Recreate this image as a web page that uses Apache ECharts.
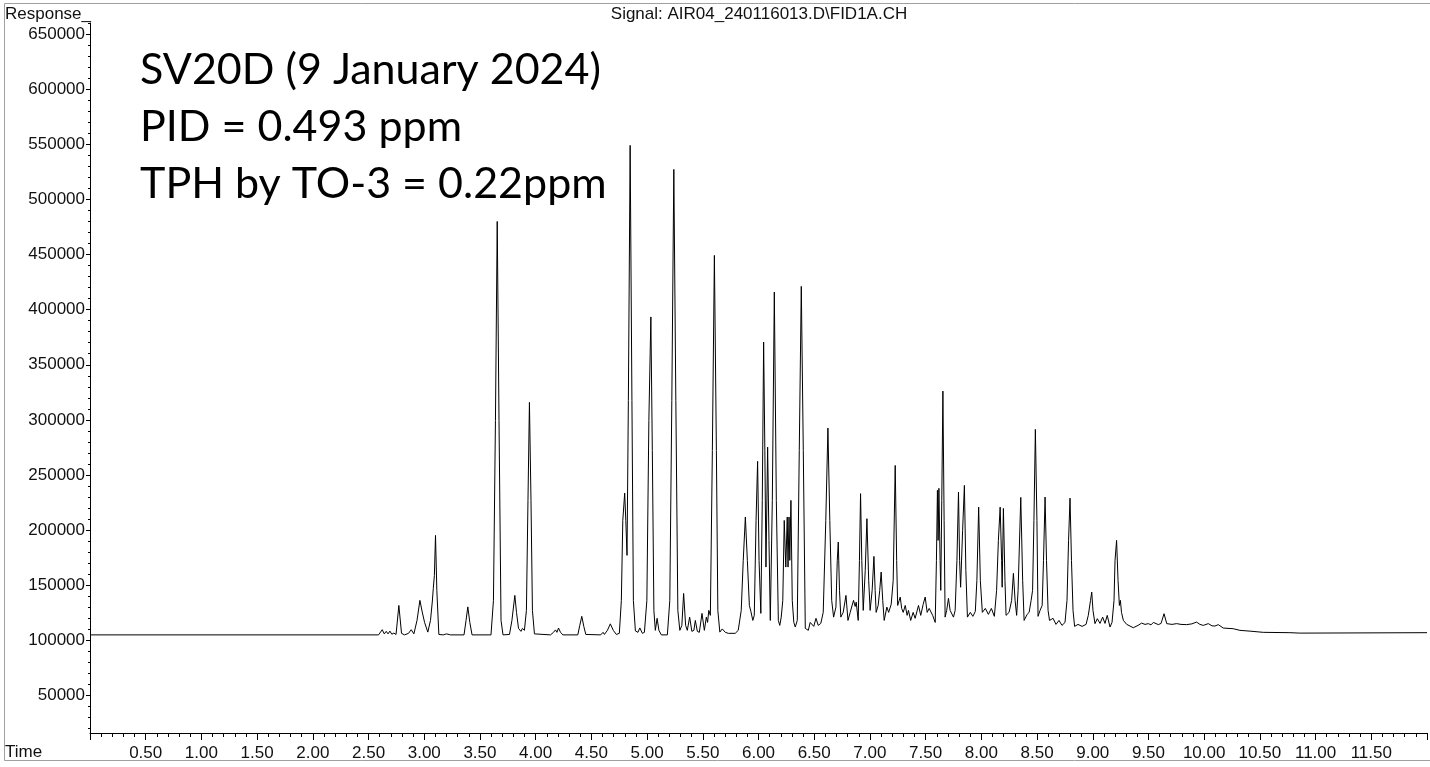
<!DOCTYPE html>
<html>
<head>
<meta charset="utf-8">
<title>FID1A chromatogram</title>
<script src="https://cdn.jsdelivr.net/npm/echarts@6/dist/echarts.min.js"></script>
<style>
	html,body{margin:0;padding:0;background:#fff;}
	#main{width:1430px;height:767px;}
</style>
</head>
<body>
<div id="main"></div>
<script>
// retention time (min)
var times = [
	0, 2.59, 2.623, 2.641, 2.659, 2.675, 2.692, 2.709, 2.727, 2.747, 2.772, 2.796, 2.823, 2.859, 2.883, 2.907,
	2.935, 2.961, 2.982, 3.003, 3.032, 3.056, 3.072, 3.081, 3.091, 3.101, 3.113, 3.131, 3.170, 3.200, 3.236,
	3.357, 3.375, 3.391, 3.409, 3.429, 3.599, 3.621, 3.639, 3.655, 3.671, 3.689, 3.707, 3.765, 3.787, 3.813,
	3.828, 3.846, 3.868, 3.881, 3.899, 3.917, 3.931, 3.944, 3.958, 3.971, 3.989, 4.133, 4.160, 4.178, 4.191,
	4.205, 4.223, 4.244, 4.378, 4.396, 4.414, 4.432, 4.450, 4.584, 4.605, 4.617, 4.644, 4.670, 4.697, 4.724,
	4.751, 4.769, 4.782, 4.799, 4.809, 4.820, 4.832, 4.848, 4.864, 4.877, 4.895, 4.918, 4.935, 4.958, 4.976,
	4.998, 5.016, 5.034, 5.047, 5.061, 5.074, 5.090, 5.106, 5.128, 5.182, 5.204, 5.222, 5.240, 5.258, 5.276,
	5.294, 5.312, 5.328, 5.346, 5.361, 5.382, 5.402, 5.420, 5.433, 5.451, 5.469, 5.493, 5.514, 5.532, 5.543,
	5.554, 5.568, 5.586, 5.604, 5.622, 5.635, 5.653, 5.675, 5.702, 5.729, 5.791, 5.818, 5.845, 5.863, 5.882,
	5.900, 5.918, 5.931, 5.949, 5.962, 5.978, 5.992, 6.005, 6.021, 6.034, 6.046, 6.057, 6.067, 6.082, 6.094,
	6.106, 6.124, 6.142, 6.160, 6.178, 6.191, 6.204, 6.218, 6.231, 6.245, 6.258, 6.265, 6.274, 6.281, 6.291,
	6.303, 6.317, 6.330, 6.348, 6.366, 6.384, 6.402, 6.420, 6.447, 6.464, 6.480, 6.496, 6.516, 6.536, 6.559,
	6.581, 6.604, 6.623, 6.640, 6.657, 6.674, 6.695, 6.707, 6.716, 6.727, 6.739, 6.760, 6.785, 6.803, 6.823,
	6.853, 6.868, 6.877, 6.895, 6.906, 6.916, 6.927, 6.940, 6.958, 6.973, 6.989, 7.002, 7.020, 7.036, 7.047,
	7.056, 7.074, 7.088, 7.101, 7.115, 7.128, 7.152, 7.168, 7.191, 7.209, 7.227, 7.240, 7.249, 7.263, 7.272,
	7.285, 7.299, 7.317, 7.334, 7.346, 7.366, 7.388, 7.406, 7.436, 7.456, 7.478, 7.496, 7.514, 7.532, 7.541,
	7.563, 7.586, 7.597, 7.606, 7.612, 7.619, 7.630, 7.636, 7.645, 7.655, 7.666, 7.675, 7.689, 7.705, 7.720,
	7.750, 7.765, 7.781, 7.795, 7.805, 7.814, 7.832, 7.848, 7.861, 7.875, 7.901, 7.924, 7.946, 7.960, 7.976,
	7.991, 8.009, 8.036, 8.063, 8.090, 8.117, 8.137, 8.153, 8.169, 8.182, 8.187, 8.198, 8.212, 8.222, 8.249,
	8.272, 8.288, 8.303, 8.317, 8.330, 8.354, 8.371, 8.384, 8.411, 8.429, 8.447, 8.460, 8.472, 8.485, 8.499,
	8.509, 8.527, 8.546, 8.558, 8.572, 8.585, 8.599, 8.612, 8.644, 8.670, 8.697, 8.724, 8.751, 8.769, 8.783,
	8.796, 8.809, 8.823, 8.837, 8.868, 8.904, 8.940, 8.960, 8.980, 8.991, 9.002, 9.020, 9.041, 9.065, 9.089,
	9.110, 9.130, 9.155, 9.173, 9.191, 9.200, 9.214, 9.227, 9.239, 9.248, 9.258, 9.275, 9.305, 9.364, 9.406,
	9.439, 9.469, 9.499, 9.523, 9.544, 9.589, 9.613, 9.640, 9.664, 9.711, 9.753, 9.792, 9.843, 9.890, 9.932,
	9.962, 9.992, 10.037, 10.070, 10.097, 10.127, 10.171, 10.261, 10.321, 10.411, 10.530, 10.769, 10.859, 12.0
];
// detector response at each time
var responses = [
	105000, 105000, 109700, 105900, 108200, 105900, 108400, 105600, 106600, 105400, 131700, 106400, 105000, 106400, 109700, 105900,
	118100, 136300, 125700, 116300, 107500, 118100, 134800, 146900, 159000, 195200, 145400, 105400, 105000, 105900, 105000,
	105000, 118100, 130400, 116300, 105000, 105000, 136300, 299500, 480000, 299500, 118100, 105000, 105400, 118100, 140800,
	125400, 110900, 108200, 110900, 109100, 127200, 227000, 315900, 227000, 127200, 105900, 105000, 107300, 109500, 107300,
	111200, 107300, 105000, 105000, 113600, 121800, 112700, 105400, 105000, 107300, 105400, 109100, 115000, 109100, 105400,
	106400, 136300, 208800, 233600, 208800, 177100, 317700, 549000, 317700, 136300, 108600, 107300, 111300, 106400, 107300,
	136300, 299500, 393400, 272300, 127200, 109100, 120000, 109100, 105000, 105000, 136300, 317700, 527200, 317700, 127200,
	109100, 113600, 142600, 113600, 109100, 121100, 108200, 109100, 118100, 108200, 107300, 124500, 109100, 121100, 116300,
	127200, 122700, 272300, 449200, 272300, 127200, 107500, 110400, 107300, 106400, 106400, 109100, 127200, 172600, 211900,
	172600, 131700, 126600, 118100, 122700, 208800, 262400, 172600, 124500, 227000, 370600, 272300, 166500, 275300, 190700,
	118100, 227000, 416000, 227000, 118100, 113600, 121100, 136300, 208800, 166500, 211900, 166500, 211900, 172600, 227000,
	136300, 116300, 112100, 118100, 272300, 421100, 272300, 110900, 109100, 116300, 118100, 112700, 120000, 113600, 115400,
	125400, 208800, 292600, 208800, 136300, 121100, 130200, 172600, 189200, 145400, 121100, 125400, 140800, 118100, 125400,
	136300, 130800, 134700, 118100, 172600, 233100, 172600, 127200, 163500, 210400, 154400, 127200, 145400, 176200, 145400,
	125400, 131700, 145400, 162000, 136300, 118100, 130200, 125400, 132700, 154400, 258700, 172600, 131700, 136300, 139300,
	129000, 125400, 131700, 122700, 127200, 118100, 125400, 120000, 131700, 122700, 132700, 139300, 125400, 129000, 130200,
	122700, 116300, 172600, 236100, 190700, 237900, 172600, 145400, 227000, 326100, 208800, 121100, 127200, 138100, 127200,
	121100, 127200, 172600, 234600, 172600, 148200, 199800, 240600, 163500, 121100, 125400, 121800, 126300, 154400, 220900,
	154400, 125400, 129000, 123600, 129000, 121800, 145400, 190700, 220900, 172600, 148200, 219700, 154400, 122700, 125400,
	136300, 160800, 136300, 122700, 145400, 229700, 154400, 118100, 123600, 125400, 136300, 145400, 208800, 291400, 208800,
	121800, 127200, 131700, 172600, 230000, 172600, 127200, 118100, 120000, 114500, 118100, 113600, 116300, 136300, 190700,
	229000, 172600, 127200, 112700, 114500, 112700, 114500, 122700, 136300, 143800, 127200, 115200, 119700, 115400, 121100,
	115400, 122700, 112100, 116300, 136300, 172600, 190700, 154400, 131700, 136300, 125400, 118100, 114500, 111500, 113600,
	115700, 114500, 115200, 114100, 116300, 114300, 115400, 124200, 115200, 114500, 115200, 114500, 114300, 115000, 116600,
	114500, 113600, 115200, 113200, 113000, 114300, 111200, 110600, 109100, 108400, 107300, 107000, 106600, 107000
];
// y tick labels and x range
var yLabels = [50000, 100000, 150000, 200000, 250000, 300000, 350000, 400000, 450000, 500000, 550000, 600000, 650000];
var yMinor = [20000, 30000, 40000, 60000, 70000, 80000, 90000, 110000, 120000, 130000, 140000, 160000, 170000, 180000, 190000,
	210000, 220000, 230000, 240000, 260000, 270000, 280000, 290000, 310000, 320000, 330000, 340000, 360000, 370000, 380000, 390000,
	410000, 420000, 430000, 440000, 460000, 470000, 480000, 490000, 510000, 520000, 530000, 540000, 560000, 570000, 580000, 590000,
	610000, 620000, 630000, 640000, 660000];
var xMin = 0, xMax = 12, xStep = 0.5;
var yMin = 16000, yMax = 660000;

var notes = ['SV20D (9 January 2024)', 'PID = 0.493 ppm', 'TPH by TO-3 = 0.22ppm'];
var signalName = 'Signal: AIR04_240116013.D\\FID1A.CH';

var trace = times.map(function (t, i) { return [t, responses[i]]; });

var small = '17px "Liberation Sans", Arial, sans-serif';
var inkColor = '#111';

var chart = echarts.init(document.getElementById('main'));
chart.setOption({
	animation: false,
	backgroundColor: '#fff',
	grid: {left: 90, right: 3, top: 23, bottom: 34, containLabel: false},
	xAxis: {
		type: 'value',
		min: xMin,
		max: xMax,
		interval: xStep,
		axisLine: {lineStyle: {color: '#000', width: 1}},
		axisTick: {length: 7, lineStyle: {color: '#000'}},
		minorTick: {show: true, splitNumber: 5, length: 4, lineStyle: {color: '#000'}},
		splitLine: {show: false},
		axisLabel: {
			showMinLabel: false,
			showMaxLabel: false,
			margin: 12,
			color: inkColor,
			fontSize: 17,
			fontFamily: '"Liberation Sans", Arial, sans-serif',
			formatter: function (v) { return v.toFixed(2); }
		}
	},
	yAxis: [{
		type: 'value',
		min: yMin,
		max: yMax,
		axisLine: {show: true, lineStyle: {color: '#000', width: 1}},
		axisTick: {show: true, length: 4, customValues: yLabels, lineStyle: {color: '#000'}},
		splitLine: {show: false},
		axisLabel: {
			customValues: yLabels,
			margin: 5,
			color: inkColor,
			fontSize: 17,
			fontFamily: '"Liberation Sans", Arial, sans-serif',
			formatter: function (v) { return String(v); }
		}
	}, {
		// minor ticks only
		type: 'value',
		position: 'left',
		min: yMin,
		max: yMax,
		axisLine: {show: false},
		axisTick: {show: true, length: 2, customValues: yMinor, lineStyle: {color: '#000'}},
		axisLabel: {show: false},
		splitLine: {show: false}
	}],
	series: [{
		type: 'line',
		data: trace,
		yAxisIndex: 0,
		showSymbol: false,
		symbol: 'none',
		lineStyle: {color: '#000', width: 1},
		silent: true
	}],
	graphic: [
		{
			type: 'rect',
			silent: true,
			shape: {x: 4.5, y: 3.5, width: 1440, height: 757},
			style: {fill: null, stroke: '#a0a0a0', lineWidth: 1}
		},
		{
			type: 'text', left: 5, top: 6,
			style: {text: 'Response_', font: small, fill: inkColor}
		},
		{
			type: 'text', left: 5, top: 744,
			style: {text: 'Time', font: small, fill: inkColor}
		},
		{
			type: 'text', x: 759, y: 6,
			style: {text: signalName, font: small, fill: inkColor, align: 'center'}
		},
		{
			type: 'text', x: 140, y: 42,
			style: {
				text: notes.join('\n'),
				font: '43px Lato, "Open Sans", sans-serif',
				lineHeight: 57,
				fill: '#000'
			}
		}
	]
});
</script>
</body>
</html>
